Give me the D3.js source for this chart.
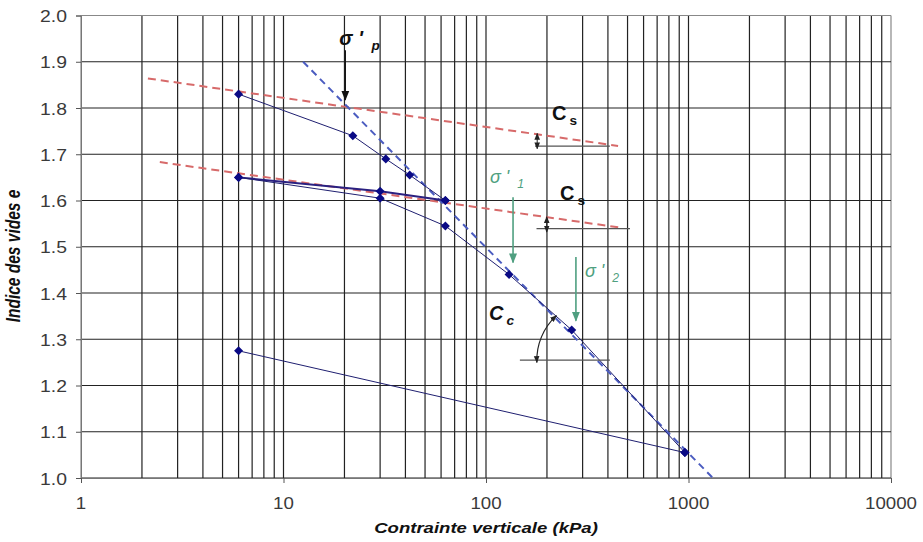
<!DOCTYPE html>
<html>
<head>
<meta charset="utf-8">
<script src="https://cdn.jsdelivr.net/npm/d3@7"></script>
<style>
  body { margin: 0; background: #fff; }
  text { font-family: "Liberation Sans", Arial, sans-serif; }
</style>
</head>
<body>
<div id="chart"></div>
<script>
// données de l'essai oedométrique (contrainte en kPa, indice des vides)
var loadStress = [6, 22, 32, 42, 63];
var loadVoid = [1.83, 1.74, 1.69, 1.655, 1.60];
var unloadStress = [63, 30, 6];
var unloadVoid = [1.60, 1.62, 1.65];
var reloadStress = [6, 30, 63, 130, 265, 960];
var reloadVoid = [1.65, 1.605, 1.545, 1.44, 1.32, 1.055];
var finalStress = [960, 6];
var finalVoid = [1.055, 1.275];

// droites de construction
var ccStress = [12.5, 1320];
var ccVoid = [1.9, 1.0];
var cs1Stress = [2.14, 449];
var cs1Void = [1.864, 1.718];
var cs2Stress = [2.45, 467];
var cs2Void = [1.683, 1.541];

// graduations
var xTicks = [1, 10, 100, 1000, 10000];
var yTicks = [1.0, 1.1, 1.2, 1.3, 1.4, 1.5, 1.6, 1.7, 1.8, 1.9, 2.0];

var widthx = 923, heighty = 542;
var plotLeft = 81, plotRight = 891, plotTop = 15.5, plotBottom = 478;
var stretch = 1.28; // le texte de l'image est étiré horizontalement

var x = d3.scaleLog().domain([1, 10000]).range([plotLeft, plotRight]);
var y = d3.scaleLinear().domain([1, 2]).range([plotBottom, plotTop]);

var svg = d3.select("#chart").append("svg")
    .attr("width", widthx)
    .attr("height", heighty);

var defs = svg.append("defs");
function marker(id, color, size) {
  defs.append("marker")
      .attr("id", id)
      .attr("viewBox", "0 0 10 10")
      .attr("refX", 9).attr("refY", 5)
      .attr("markerWidth", size).attr("markerHeight", size)
      .attr("markerUnits", "userSpaceOnUse")
      .attr("orient", "auto-start-reverse")
      .append("path")
      .attr("d", "M0,1 L10,5 L0,9 Z")
      .attr("fill", color);
}
marker("arrBlack", "#111", 10);
marker("arrGreen", "#4f9f80", 10);
marker("arrSmall", "#222", 7);

// grille verticale (1..9 par décade)
var minor = [];
for (var k = 0; k < 4; k++) {
  for (var m = 1; m <= 9; m++) minor.push(m * Math.pow(10, k));
}
minor.push(10000);
svg.append("g").selectAll("line").data(minor).enter().append("line")
    .attr("x1", function(d) { return x(d); })
    .attr("x2", function(d) { return x(d); })
    .attr("y1", plotTop).attr("y2", plotBottom)
    .attr("stroke", function(d) { return (d == 1 || d == 10000) ? "#888" : "#222"; })
    .attr("stroke-width", 1.2);

// grille horizontale
svg.append("g").selectAll("line").data(yTicks).enter().append("line")
    .attr("x1", plotLeft).attr("x2", plotRight)
    .attr("y1", function(d) { return y(d); })
    .attr("y2", function(d) { return y(d); })
    .attr("stroke", function(d) { return d == 2.0 ? "#888" : "#222"; })
    .attr("stroke-width", 1.2);

// axes
var yAxis = svg.append("g")
    .attr("transform", "translate(" + plotLeft + ",0)")
    .call(d3.axisLeft(y).tickValues(yTicks).tickFormat(d3.format(".1f")).tickSize(5));
yAxis.select(".domain").attr("stroke", "#777");
yAxis.selectAll(".tick line").attr("stroke", "#555");
yAxis.selectAll("text").remove();

var xAxis = svg.append("g")
    .attr("transform", "translate(0," + plotBottom + ")")
    .call(d3.axisBottom(x).tickValues(xTicks).tickFormat(d3.format("d")).tickSize(5));
xAxis.select(".domain").attr("stroke", "#777");
xAxis.selectAll(".tick line").attr("stroke", "#555");
xAxis.selectAll("text").remove();

function stretchedText(px, py, txt, size, anchor, opts) {
  opts = opts || {};
  return svg.append("text")
      .attr("transform", "translate(" + px + "," + py + ") scale(" + (opts.sx || stretch) + ",1)")
      .attr("text-anchor", anchor)
      .attr("font-size", size)
      .attr("fill", opts.fill || "#333")
      .attr("font-weight", opts.weight || "normal")
      .attr("font-style", opts.style || "normal")
      .text(txt);
}

yTicks.forEach(function(d) {
  stretchedText(67, y(d) + 6.5, d3.format(".1f")(d), 17, "end", { sx: 1.14, fill: "#3a3a3a" });
});
xTicks.forEach(function(d) {
  stretchedText(x(d), 509, d3.format("d")(d), 17, "middle", { sx: 1.1, fill: "#3a3a3a" });
});

// titres des axes
stretchedText(486, 533, "Contrainte verticale (kPa)", 14.5, "middle", { weight: "bold", style: "italic", fill: "#111" });
svg.append("text")
    .attr("transform", "translate(20,256) rotate(-90) scale(1," + stretch + ")")
    .attr("text-anchor", "middle")
    .attr("font-size", 15.5)
    .attr("font-style", "italic")
    .attr("font-weight", "bold")
    .attr("fill", "#111")
    .text("Indice des vides e");

function pairs(xs, ys) {
  return xs.map(function(v, i) { return [v, ys[i]]; });
}
var line = d3.line()
    .x(function(d) { return x(d[0]); })
    .y(function(d) { return y(d[1]); });

// droites de construction pointillées
[[cs1Stress, cs1Void], [cs2Stress, cs2Void]].forEach(function(s) {
  svg.append("path")
      .attr("d", line(pairs(s[0], s[1])))
      .attr("fill", "none")
      .attr("stroke", "#d76a6a")
      .attr("stroke-width", 2)
      .attr("stroke-dasharray", "8,5");
});
svg.append("path")
    .attr("d", line(pairs(ccStress, ccVoid)))
    .attr("fill", "none")
    .attr("stroke", "#4b5cc0")
    .attr("stroke-width", 2)
    .attr("stroke-dasharray", "7,5");

// courbe de l'essai
var series = [
  pairs(loadStress, loadVoid),
  pairs(unloadStress, unloadVoid),
  pairs(reloadStress, reloadVoid),
  pairs(finalStress, finalVoid)
];
series.forEach(function(s, i) {
  svg.append("path")
      .attr("d", line(s))
      .attr("fill", "none")
      .attr("stroke", i == 1 ? "#2a2080" : "#1f1f70")
      .attr("stroke-width", i == 1 ? 2 : 1);
});
var allPts = [].concat.apply([], series);
svg.append("g").selectAll("path").data(allPts).enter().append("path")
    .attr("d", d3.symbol().type(d3.symbolDiamond2).size(52))
    .attr("transform", function(d) { return "translate(" + x(d[0]) + "," + y(d[1]) + ")"; })
    .attr("fill", "#0a0a85");

// annotations
function arrow(sx, e1, e2, color, mk, width) {
  svg.append("line")
      .attr("x1", x(sx)).attr("x2", x(sx))
      .attr("y1", y(e1)).attr("y2", y(e2))
      .attr("stroke", color)
      .attr("stroke-width", width || 1.5)
      .attr("marker-end", "url(#" + mk + ")");
}
function hline(s1, s2, e) {
  svg.append("line")
      .attr("x1", x(s1)).attr("x2", x(s2))
      .attr("y1", y(e)).attr("y2", y(e))
      .attr("stroke", "#555").attr("stroke-width", 1.3);
}
function dblArrow(sx, e1, e2) {
  svg.append("line")
      .attr("x1", x(sx)).attr("x2", x(sx))
      .attr("y1", y(e1)).attr("y2", y(e2))
      .attr("stroke", "#222").attr("stroke-width", 1)
      .attr("marker-start", "url(#arrSmall)")
      .attr("marker-end", "url(#arrSmall)");
}
function symbolLabel(px, py, main, sub, size, color, style, weight) {
  var t = svg.append("text")
      .attr("x", px).attr("y", py)
      .attr("font-size", size)
      .attr("font-style", style)
      .attr("font-weight", weight)
      .attr("fill", color);
  t.append("tspan").text(main);
  t.append("tspan").attr("font-size", size * 0.68).attr("dx", 3).attr("dy", 5).text(sub);
}

// sigma'p
arrow(20.2, 1.925, 1.818, "#111", "arrBlack", 1.3);
symbolLabel(x(20.2) - 6, 45, "σ ' ", "p", 20, "#111", "italic", "bold");

// Cs
hline(174.6, 409, 1.7177);
dblArrow(179, 1.745, 1.712);
symbolLabel(552, 120, "C", "s", 20, "#111", "normal", "bold");
hline(177.6, 514, 1.539);
dblArrow(199.5, 1.565, 1.532);
symbolLabel(560, 200, "C", "s", 20, "#111", "normal", "bold");

// sigma'1 et sigma'2
arrow(136, 1.607, 1.466, "#4f9f80", "arrGreen", 1.6);
symbolLabel(490, 183, "σ ' ", "1", 18, "#4f9f80", "italic", "normal");
arrow(278, 1.478, 1.34, "#4f9f80", "arrGreen", 1.6);
symbolLabel(585, 277, "σ ' ", "2", 18, "#4f9f80", "italic", "normal");

// Cc : arc entre la droite de compression et l'horizontale
hline(147, 409, 1.255);
var lg0 = Math.log10(ccStress[0]), lg1 = Math.log10(ccStress[1]);
var cx0 = x(Math.pow(10, lg0 + (ccVoid[0] - 1.255) / (ccVoid[0] - ccVoid[1]) * (lg1 - lg0)));
var cy0 = y(1.255);
var ang = Math.atan2(y(ccVoid[0]) - y(ccVoid[1]), x(ccStress[0]) - x(ccStress[1]));
var r = 60;
var a1 = ang + 0.04, a2 = Math.PI - 0.04;
svg.append("path")
    .attr("d", "M" + (cx0 + r * Math.cos(a1)) + "," + (cy0 + r * Math.sin(a1)) +
               " A" + r + "," + r + " 0 0 0 " + (cx0 + r * Math.cos(a2)) + "," + (cy0 + r * Math.sin(a2)))
    .attr("fill", "none")
    .attr("stroke", "#222")
    .attr("stroke-width", 1.2)
    .attr("marker-start", "url(#arrSmall)")
    .attr("marker-end", "url(#arrSmall)");
symbolLabel(489, 320, "C", "c", 20, "#111", "italic", "bold");
</script>
</body>
</html>
